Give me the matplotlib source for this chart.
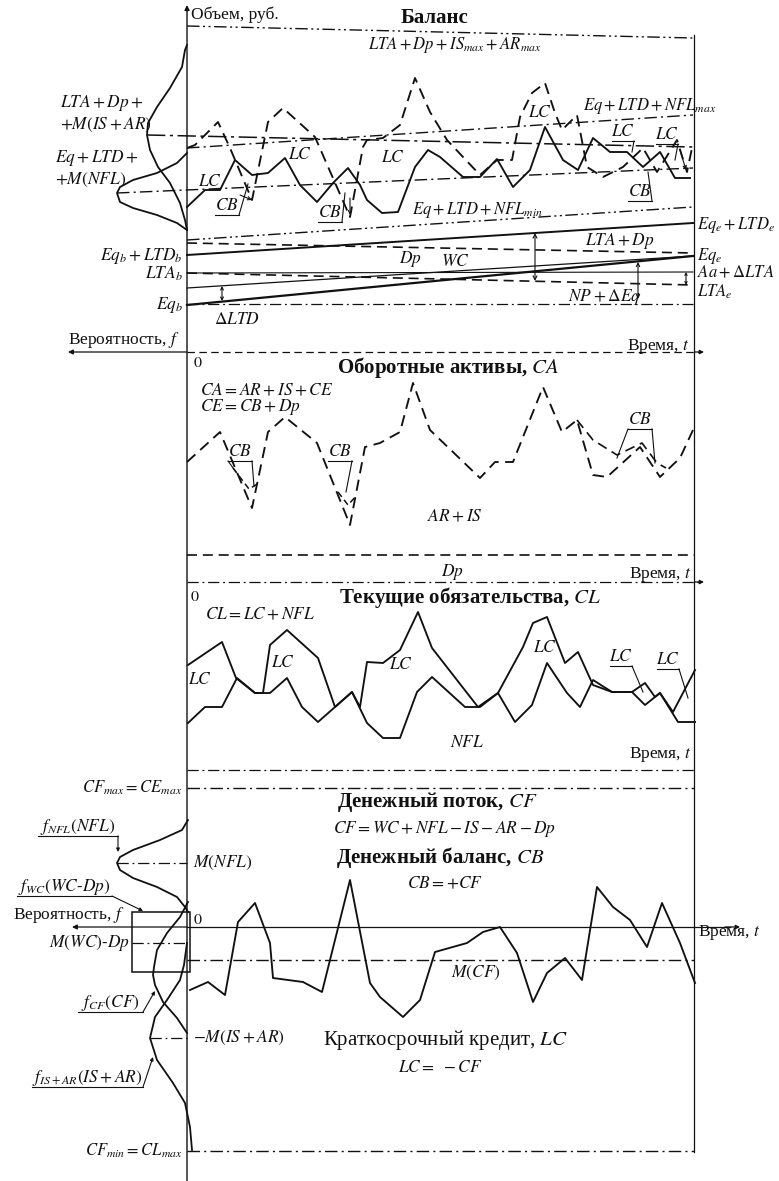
import matplotlib
matplotlib.use("Agg")
import matplotlib.pyplot as plt
from matplotlib.patches import Rectangle

plt.rcParams['font.family'] = ['Liberation Serif', 'DejaVu Serif']
plt.rcParams['mathtext.fontset'] = 'stix'

# ---------------- data (pixel units) ----------------
# Balance panel: liabilities level (Eq+LTD+NFL), solid
bal_liab_t = [187, 205, 220, 235, 252, 268, 285, 300, 317, 333, 348, 360, 367, 382, 398, 415, 428, 440,
              463, 480, 497, 513, 530, 545, 563, 578, 593, 610, 627, 643, 660, 675, 690]
bal_liab_v = [207, 190, 190, 160, 175, 173, 158, 185, 202, 183, 168, 185, 200, 213, 212, 167, 150, 157,
              177, 177, 159, 187, 170, 127, 160, 170, 138, 152, 152, 167, 152, 178, 178]
# Balance panel: assets level (LTA+Dp+IS+AR), dashed
bal_asset_t = [187, 195, 218, 230, 252, 268, 283, 315, 350, 363, 367, 383, 400, 415, 430, 447, 480, 497,
               512, 520, 532, 545, 555, 562, 577, 587, 603, 623, 643, 657, 677, 687, 692]
bal_asset_v = [148, 145, 122, 148, 200, 122, 108, 137, 217, 147, 140, 138, 125, 78, 112, 140, 175, 160,
               160, 117, 93, 83, 113, 130, 115, 167, 177, 167, 148, 172, 140, 172, 148]

# Current assets panel (CA), dashed
ca_t = [187, 220, 252, 268, 285, 317, 350, 365, 380, 400, 413, 430, 480, 495, 513, 543, 562, 577,
        593, 607, 640, 660, 680, 693]
ca_v = [462, 432, 508, 432, 417, 443, 525, 447, 443, 432, 383, 430, 478, 462, 462, 387, 432, 420,
        475, 477, 447, 477, 458, 430]
ca_inner_t = [577, 593, 617, 642, 657, 666]
ca_inner_v = [420, 440, 455, 443, 463, 468]
ca_cb1_t = [233, 249, 259]
ca_cb1_v = [468, 489, 483]
ca_cb2_t = [338, 348, 357]
ca_cb2_v = [492, 505, 495]

# Current liabilities panel: CL (upper) and NFL (lower)
cl_t = [188, 222, 236, 255, 263, 270, 287, 318, 335, 352, 360, 367, 383, 400, 418, 432, 478, 498,
        523, 533, 547, 565, 578, 593, 612, 632, 645, 655, 660, 673, 695]
cl_v = [665, 642, 678, 693, 693, 645, 630, 658, 707, 692, 707, 662, 663, 650, 612, 648, 707, 693,
        647, 623, 617, 663, 652, 685, 692, 692, 683, 697, 693, 712, 670]
nfl_t = [188, 205, 222, 237, 255, 270, 287, 302, 318, 335, 352, 367, 383, 400, 417, 432, 465, 480,
         498, 515, 532, 547, 567, 580, 593, 612, 632, 645, 660, 678, 695]
nfl_v = [723, 707, 707, 678, 693, 693, 678, 707, 722, 707, 692, 723, 738, 738, 692, 677, 707, 707,
         693, 722, 705, 663, 693, 707, 680, 692, 692, 705, 693, 722, 722]

# Cash flow panel (CF), solid
cf_t = [190, 208, 225, 238, 255, 270, 273, 303, 322, 350, 370, 380, 403, 420, 435, 467, 483, 500,
        517, 533, 547, 565, 582, 597, 613, 630, 647, 662, 680, 695]
cf_v = [990, 982, 995, 922, 903, 943, 978, 982, 992, 880, 983, 997, 1017, 1000, 952, 943, 932, 927,
        953, 1002, 973, 958, 980, 887, 907, 920, 947, 903, 943, 983]

# probability density curves (offset f to the left of the axis, value level)
dens_top_wide_f = [187, 185, 182, 170, 157, 148, 147, 150, 158, 170, 180, 185, 187]
dens_top_wide_v = [45, 50, 67, 88, 107, 123, 135, 150, 167, 183, 203, 220, 230]
dens_top_narrow_f = [187, 177, 157, 133, 120, 117, 120, 133, 157, 177, 187]
dens_top_narrow_v = [153, 163, 173, 180, 187, 193, 202, 208, 215, 223, 230]
dens_nfl_f = [188, 182, 160, 133, 120, 117, 120, 133, 157, 177, 185, 188]
dens_nfl_v = [820, 830, 840, 850, 857, 863, 870, 878, 887, 897, 907, 912]
dens_wc_f = [188, 180, 167, 157, 154, 153, 155, 163, 177, 187]
dens_wc_v = [902, 917, 933, 950, 967, 975, 985, 1002, 1018, 1033]
dens_isar_f = [187, 184, 180, 167, 155, 150, 157, 173, 185, 190, 192]
dens_isar_v = [943, 965, 980, 1000, 1017, 1038, 1060, 1083, 1103, 1127, 1150]

# straight level lines in balance panel: (t0, v0, t1, v1)
lvl_assets_max = (187, 26, 693, 38)
lvl_assets_mean = (147, 135, 693, 147)
lvl_nfl_max = (187, 148, 693, 115)
lvl_nfl_mean = (117, 193, 693, 168)
lvl_nfl_min = (187, 240, 693, 207)
lvl_eq_ltd = (187, 255, 693, 223)
lvl_lta_dp = (187, 243, 693, 253)
lvl_lta_b = (187, 273, 693, 272)
lvl_lta = (187, 273, 693, 285)
lvl_eq_dltd = (187, 288, 693, 256)
lvl_eq = (187, 305, 693, 256)
lvl_eq_b = (187, 304, 693, 304)

# ---------------- drawing ----------------
W, H = 779, 1181
fig = plt.figure(figsize=(W / 100, H / 100), dpi=100)
ax = fig.add_axes([0, 0, 1, 1])
ax.set_xlim(0, W)
ax.set_ylim(H, 0)
ax.axis('off')

K = '#111111'
DASH = (0, (6, 3.5))
DASHDOT = (0, (9, 3, 1.5, 3))
DASHDOT2 = (0, (9, 2.5, 1.5, 2.5, 1.5, 2.5))
LW = 1.35


def seg(p, ls='-', lw=1.0):
    ax.plot([p[0], p[2]], [p[1], p[3]], color=K, ls=ls, lw=lw)


def txt(x, y, s, size=12.5, ha='left', va='center', **kw):
    ax.text(x, y, s, fontsize=size, ha=ha, va=va, color=K, **kw)


def arrow(x0, y0, x1, y1, style='->', lw=0.8, ms=8):
    ax.annotate('', xy=(x1, y1), xytext=(x0, y0),
                arrowprops=dict(arrowstyle=style, color=K, lw=lw, shrinkA=0, shrinkB=0,
                                mutation_scale=ms))


AX_X = 187
RIGHT_X = 694

# main vertical axis and right border
arrow(AX_X, 1181, AX_X, 5, style='-|>', lw=1.0, ms=7)
ax.plot([RIGHT_X, RIGHT_X], [35, 1152], color=K, lw=0.9)

# ===== Balance panel =====
txt(191, 15, 'Объем, руб.', size=12.5)
txt(435, 18, 'Баланс', size=15, ha='center', weight='bold')
txt(455, 45, r'$LTA+Dp+IS_{max}+AR_{max}$', size=12, ha='center')

seg(lvl_assets_max, DASHDOT2, 1.0)
seg(lvl_assets_mean, (0, (12, 3, 2, 3)), 1.1)
seg(lvl_nfl_max, DASHDOT, 1.0)
seg(lvl_nfl_mean, DASHDOT, 1.0)
seg(lvl_nfl_min, DASHDOT2, 1.0)
seg(lvl_eq_ltd, '-', 1.4)
seg(lvl_lta_dp, DASH, 1.2)
seg(lvl_lta_b, '-', 0.8)
seg(lvl_lta, DASH, 1.2)
seg(lvl_eq_dltd, '-', 0.9)
seg(lvl_eq, '-', 1.6)
seg(lvl_eq_b, DASHDOT, 0.9)

ax.plot(dens_top_wide_f, dens_top_wide_v, color=K, lw=1.3)
ax.plot(dens_top_narrow_f, dens_top_narrow_v, color=K, lw=1.3)

ax.plot(bal_liab_t, bal_liab_v, color=K, lw=LW)
ax.plot(bal_asset_t, bal_asset_v, color=K, lw=LW, ls=DASH)

txt(60, 103, r'$LTA+Dp+$', size=12.5)
txt(60, 125, r'$+M(IS+AR)$', size=12.5)
txt(55, 158, r'$Eq+LTD+$', size=12.5)
txt(55, 180, r'$+M(NFL)$', size=12.5)
txt(583, 106, r'$Eq+LTD+NFL_{max}$', size=12)
txt(412, 210, r'$Eq+LTD+NFL_{min}$', size=12)

for (x, y) in [(210, 182), (300, 155), (393, 158), (540, 113)]:
    txt(x, y, r'$LC$', size=12.5, ha='center')


def ulabel(x, y, s, w, leaders):
    txt(x, y, s, size=12.5, ha='center')
    uy = y + 9
    ax.plot([x - w / 2, x + w / 2], [uy, uy], color=K, lw=0.8)
    for (lx, ly) in leaders:
        sx = x + w / 2 if lx >= x else x - w / 2
        ax.plot([sx, lx], [uy, ly], color=K, lw=0.8)


ulabel(227, 206, r'$CB$', 24, [(248, 184)])
ulabel(330, 213, r'$CB$', 24, [(345, 193)])
ulabel(623, 132, r'$LC$', 22, [(632, 152)])
ulabel(667, 135, r'$LC$', 22, [(675, 160)])
ulabel(640, 192, r'$CB$', 24, [(648, 172)])
arrow(240, 195, 252, 200, ms=6)
arrow(350, 198, 350, 215, ms=6)
arrow(680, 150, 686, 170, ms=6)

txt(183, 256, r'$Eq_b+LTD_b$', size=12.5, ha='right')
txt(183, 274, r'$LTA_b$', size=12.5, ha='right')
txt(183, 305, r'$Eq_b$', size=12.5, ha='right')
txt(214, 320, r'$\Delta LTD$', size=12.5)
arrow(222, 286, 222, 301, style='<->', ms=5)

txt(697, 225, r'$Eq_e+LTD_e$', size=12)
txt(620, 241, r'$LTA+Dp$', size=12.5, ha='center')
txt(697, 256, r'$Eq_e$', size=12)
txt(697, 273, r'$Aa+\Delta LTA$', size=12)
txt(697, 292, r'$LTA_e$', size=12)
txt(410, 259, r'$Dp$', size=12.5, ha='center')
txt(455, 262, r'$WC$', size=12.5, ha='center')
txt(605, 297, r'$NP+\Delta Eq$', size=12.5, ha='center')
arrow(535, 233, 535, 281, style='<->', ms=7)
arrow(638, 299, 638, 262, style='<->', ms=6)
arrow(686, 272, 686, 285, style='<->', ms=4)

# axis separating balance and CA panels
txt(180, 340, r'Вероятность, $f$', size=12.5, ha='right')
arrow(AX_X, 352, 68, 352, style='-|>', lw=0.9, ms=7)
ax.plot([AX_X, 700], [352, 352], color=K, lw=0.9, ls=DASH)
arrow(695, 352, 704, 352, style='-|>', lw=0.9, ms=6)
txt(690, 346, r'Время, $t$', size=12.5, ha='right')

# ===== Current assets panel =====
txt(193, 363, r'$0$', size=11.5)
txt(448, 367, r'Оборотные активы, $CA$', size=15, ha='center', weight='bold')
txt(200, 391, r'$CA=AR+IS+CE$', size=12.5)
txt(200, 407, r'$CE=CB+Dp$', size=12.5)
ax.plot(ca_t, ca_v, color=K, lw=LW, ls=DASH)
ax.plot(ca_inner_t, ca_inner_v, color=K, lw=1.2, ls=DASH)
ax.plot(ca_cb1_t, ca_cb1_v, color=K, lw=1.1, ls=(0, (4, 2.5)))
ax.plot(ca_cb2_t, ca_cb2_v, color=K, lw=1.1, ls=(0, (4, 2.5)))
ulabel(240, 452, r'$CB$', 24, [(236, 472), (254, 486)])
ulabel(340, 452, r'$CB$', 24, [(346, 492)])
ulabel(640, 420, r'$CB$', 24, [(617, 458), (655, 463)])
txt(455, 517, r'$AR+IS$', size=12.5, ha='center')
ax.plot([AX_X, RIGHT_X], [555, 555], color=K, lw=1.2, ls=DASH)
txt(452, 572, r'$Dp$', size=12.5, ha='center')
txt(692, 574, r'Время, $t$', size=12.5, ha='right')
ax.plot([AX_X, 700], [582, 582], color=K, lw=0.9, ls=DASHDOT)
arrow(695, 582, 704, 582, style='-|>', lw=0.9, ms=6)

# ===== Current liabilities panel =====
txt(190, 597, r'$0$', size=11.5)
txt(470, 598, r'Текущие обязательства, $CL$', size=15, ha='center', weight='bold')
txt(205, 615, r'$CL=LC+NFL$', size=12.5)
ax.plot(cl_t, cl_v, color=K, lw=LW)
ax.plot(nfl_t, nfl_v, color=K, lw=LW)
for (x, y) in [(200, 680), (283, 663), (401, 665), (545, 648)]:
    txt(x, y, r'$LC$', size=12.5, ha='center')
ulabel(621, 657, r'$LC$', 22, [(643, 692)])
ulabel(668, 660, r'$LC$', 22, [(688, 698)])
txt(467, 743, r'$NFL$', size=12.5, ha='center')
txt(692, 755, r'Время, $t$', size=12.5, ha='right')
ax.plot([AX_X, RIGHT_X], [770, 770], color=K, lw=0.9, ls=DASHDOT)

# ===== Cash flow panel =====
txt(182, 788, r'$CF_{max}=CE_{max}$', size=12, ha='right')
ax.plot([AX_X, RIGHT_X], [788, 788], color=K, lw=1.0, ls=DASHDOT)
txt(437, 802, r'Денежный поток, $CF$', size=15, ha='center', weight='bold')
txt(445, 829, r'$CF=WC+NFL-IS-AR-Dp$', size=12.5, ha='center')
txt(440, 857, r'Денежный баланс, $CB$', size=15, ha='center', weight='bold')
txt(445, 884, r'$CB=+CF$', size=12.5, ha='center')

ax.plot(dens_nfl_f, dens_nfl_v, color=K, lw=1.3)
ax.plot(dens_wc_f, dens_wc_v, color=K, lw=1.3)
ax.plot(dens_isar_f, dens_isar_v, color=K, lw=1.3)
ax.add_patch(Rectangle((132, 912), 58, 60, fill=False, ec=K, lw=1.1))

ax.plot([117, AX_X], [863, 863], color=K, lw=0.9, ls=DASHDOT)
txt(193, 863, r'$M(NFL)$', size=12.5)
ax.plot([132, AX_X], [943, 943], color=K, lw=0.9, ls=DASHDOT)
txt(130, 943, r'$M(WC)\text{-}Dp$', size=12.5, ha='right')
ax.plot([150, AX_X], [1038, 1038], color=K, lw=0.9, ls=DASHDOT)
txt(193, 1038, r'$-M(IS+AR)$', size=12.5)

txt(125, 915, r'Вероятность, $f$', size=12.5, ha='right')
arrow(AX_X, 927, 72, 927, style='-|>', lw=0.9, ms=7)
ax.plot([AX_X, 730], [927, 927], color=K, lw=0.9)
arrow(725, 927, 740, 927, style='-|>', lw=0.9, ms=6)
txt(698, 933, r'Время, $t$', size=12.5)
txt(193, 920, r'$0$', size=11.5)

ax.plot([AX_X, RIGHT_X], [960, 960], color=K, lw=1.0, ls=DASHDOT)
txt(476, 973, r'$M(CF)$', size=12.5, ha='center')
ax.plot(cf_t, cf_v, color=K, lw=LW)


def fleader(x0, x1, y, s, tip):
    txt((x0 + x1) / 2, y - 9, s, size=12.5, ha='center')
    ax.plot([x0, x1], [y, y], color=K, lw=0.8)
    arrow(x1, y, tip[0], tip[1], style='-|>', lw=0.8, ms=5)


fleader(38, 118, 836, r'$f_{NFL}(NFL)$', (118, 852))
fleader(17, 112, 896, r'$f_{WC}(WC\text{-}Dp)$', (143, 911))
fleader(78, 143, 1012, r'$f_{CF}(CF)$', (155, 991))
fleader(32, 143, 1087, r'$f_{IS+AR}(IS+AR)$', (153, 1057))

txt(445, 1040, r'Краткосрочный кредит, $LC$', size=15, ha='center')
txt(440, 1068, r'$LC=\ -CF$', size=12.5, ha='center')

txt(182, 1151, r'$CF_{min}=CL_{max}$', size=12, ha='right')
ax.plot([AX_X, RIGHT_X], [1151, 1151], color=K, lw=1.0, ls=DASHDOT)

fig.savefig('out.png', dpi=100)
